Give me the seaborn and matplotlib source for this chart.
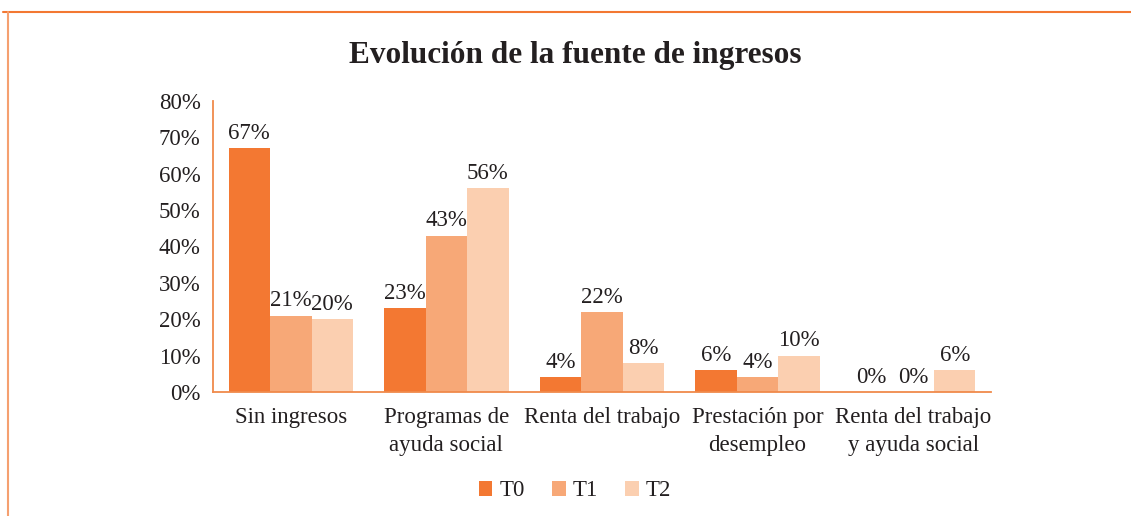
import pandas as pd
import seaborn as sns
import matplotlib.pyplot as plt
from matplotlib.lines import Line2D

# datos
categorias = ["Sin ingresos", "Programas de\nayuda social", "Renta del trabajo",
              "Prestación por\ndesempleo", "Renta del trabajo\ny ayuda social"]
periodos = ["T0", "T1", "T2"]
t0 = [0.67, 0.23, 0.04, 0.06, 0.00]
t1 = [0.21, 0.43, 0.22, 0.04, 0.00]
t2 = [0.20, 0.56, 0.08, 0.10, 0.06]
colores = ["#F37832", "#F7A877", "#FBCFB0"]

df = pd.DataFrame({
    "categoria": categorias * 3,
    "periodo": [p for p in periodos for _ in categorias],
    "valor": t0 + t1 + t2,
})

sns.set_theme(style="white")
plt.rcParams["font.family"] = ["Liberation Serif", "DejaVu Serif"]
texto = "#231F20"
naranja = "#F08A4B"

fig = plt.figure(figsize=(11.31, 5.16), dpi=100)
ax = fig.add_axes([213 / 1131, 1 - 392 / 516, (991 - 213) / 1131, (392 - 101) / 516])

sns.barplot(data=df, x="categoria", y="valor", hue="periodo", palette=colores,
            order=categorias, hue_order=periodos, width=0.8, linewidth=0,
            saturation=1, errorbar=None, ax=ax)

for cont in ax.containers:
    ax.bar_label(cont, labels=[f"{v * 100:.0f}%" for v in cont.datavalues],
                 padding=3, fontsize=16.5, color=texto)

ax.set_ylim(0, 0.8)
ax.set_yticks([i / 10 for i in range(9)])
ax.set_yticklabels([f"{i * 10}%" for i in range(9)])
ax.set_xlabel("")
ax.set_ylabel("")
ax.tick_params(axis="both", length=0, labelsize=16.5, labelcolor=texto)
ax.tick_params(axis="y", pad=9)
ax.tick_params(axis="x", pad=11)
for lbl in ax.get_xticklabels():
    lbl.set_linespacing(1.4)
    lbl.set_verticalalignment("top")

sns.despine(ax=ax)
for s in ["left", "bottom"]:
    ax.spines[s].set_color(naranja)
    ax.spines[s].set_linewidth(1.3)

handles, labels = ax.get_legend_handles_labels()
ax.get_legend().remove()
fig.legend(handles, labels, loc="center", bbox_to_anchor=(575 / 1131, 1 - 491 / 516),
           ncol=3, frameon=False, fontsize=16.5, handlelength=0.6, handleheight=0.6,
           handletextpad=0.3, columnspacing=1.2, labelcolor=texto)

fig.suptitle("Evolución de la fuente de ingresos", x=575 / 1131, y=1 - 55 / 516,
             va="center", fontsize=22.5, fontweight="bold", color=texto)

# marco naranja
fig.add_artist(Line2D([3 / 1131, 1], [1 - 12 / 516, 1 - 12 / 516],
                      transform=fig.transFigure, color="#F37832", lw=1.5))
fig.add_artist(Line2D([8 / 1131, 8 / 1131], [0, 1 - 12 / 516],
                      transform=fig.transFigure, color="#F5A070", lw=1.5))

fig.savefig("out.png", dpi=100)
